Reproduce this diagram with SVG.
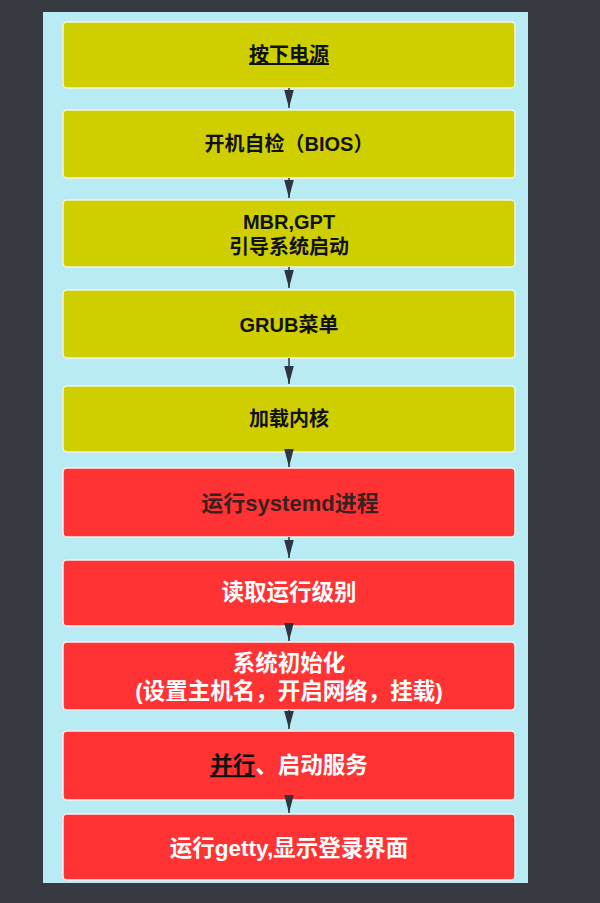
<svg xmlns="http://www.w3.org/2000/svg" width="600" height="903" viewBox="0 0 600 903">
<defs>
<style>
.y{fill:#cfcf00;stroke:#f4f4e0;stroke-width:1.5}
.r{fill:#ff3333;stroke:#f6f0f0;stroke-width:1.5}
.t{font-family:"Liberation Sans","Noto Sans CJK SC",sans-serif;text-anchor:middle;font-weight:bold}
.ty{font-size:20px;fill:#111}
.tr{font-size:22.5px;fill:#ffffff}
.c{stroke:#2e3540;stroke-width:1.5;fill:none}
</style>
<marker id="ah" markerUnits="userSpaceOnUse" markerWidth="18" markerHeight="10" refX="17" refY="4.5" orient="auto" viewBox="0 0 17 9">
<path d="M0,0 L17,4.5 L0,9 Z" fill="#2e3540"/>
</marker>
</defs>
<rect x="0" y="0" width="600" height="903" fill="#373a40"/>
<rect x="43" y="12" width="485" height="871" fill="#b8ebf3"/>
<g id="n1"><rect class="y" x="63" y="22" width="452" height="66" rx="4"/><text class="t ty" x="289" y="62" text-decoration="underline">按下电源</text></g>
<g id="n2"><rect class="y" x="63" y="110" width="452" height="68" rx="4"/><text class="t ty" x="289" y="151">开机自检（BIOS）</text></g>
<g id="n3"><rect class="y" x="63" y="200" width="452" height="67" rx="4"/><text class="t ty" x="289" y="229">MBR,GPT</text><text class="t ty" x="289" y="254">引导系统启动</text></g>
<g id="n4"><rect class="y" x="63" y="290" width="452" height="68" rx="4"/><text class="t ty" x="289" y="332">GRUB菜单</text></g>
<g id="n5"><rect class="y" x="63" y="386" width="452" height="66" rx="4"/><text class="t ty" x="289" y="426">加载内核</text></g>
<g id="n6"><rect class="r" x="63" y="468" width="452" height="69" rx="4"/><text class="t" x="290" y="511" style="font-size:22px;fill:#3a2020;font-weight:600">运行systemd进程</text></g>
<g id="n7"><rect class="r" x="63" y="560" width="452" height="66" rx="4"/><text class="t tr" x="289" y="600">读取运行级别</text></g>
<g id="n8"><rect class="r" x="63" y="642" width="452" height="68" rx="4"/><text class="t tr" x="289" y="671">系统初始化</text><text class="t tr" x="289" y="699">(设置主机名，开启网络，挂载)</text></g>
<g id="n9"><rect class="r" x="63" y="731" width="452" height="69" rx="4"/><text class="t tr" x="289" y="773"><tspan fill="#111" text-decoration="underline">并行</tspan>、启动服务</text></g>
<g id="n10"><rect class="r" x="63" y="814" width="452" height="66" rx="4"/><text class="t tr" x="289" y="856">运行getty,显示登录界面</text></g>
<g id="connectors">
<line class="c" x1="289" y1="88" x2="289" y2="108" marker-end="url(#ah)"/>
<line class="c" x1="289" y1="178" x2="289" y2="198" marker-end="url(#ah)"/>
<line class="c" x1="289" y1="267" x2="289" y2="288" marker-end="url(#ah)"/>
<line class="c" x1="289" y1="358" x2="289" y2="384" marker-end="url(#ah)"/>
<line class="c" x1="289" y1="452" x2="289" y2="467" marker-end="url(#ah)"/>
<line class="c" x1="289" y1="537" x2="289" y2="558" marker-end="url(#ah)"/>
<line class="c" x1="289" y1="626" x2="289" y2="641" marker-end="url(#ah)"/>
<line class="c" x1="289" y1="710" x2="289" y2="729" marker-end="url(#ah)"/>
<line class="c" x1="289" y1="800" x2="289" y2="813" marker-end="url(#ah)"/>
</g>
</svg>
